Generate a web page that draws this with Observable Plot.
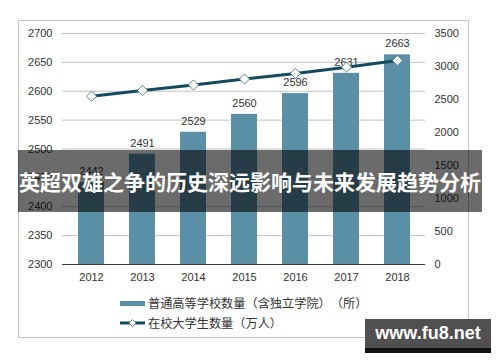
<!DOCTYPE html>
<html>
<head>
<meta charset="utf-8">
<script src="https://cdn.jsdelivr.net/npm/d3@7"></script>
<script src="https://cdn.jsdelivr.net/npm/@observablehq/plot@0.6"></script>
<style>
  html, body { margin: 0; padding: 0; background: #fff; }
  #wrap { position: relative; width: 500px; height: 362px; overflow: hidden; font-family: "Liberation Sans", Arial, sans-serif; }
  #frame { position: absolute; left: 18px; top: 20px; width: 449px; height: 316px; border: 1px solid #c4c4c4; box-sizing: content-box; }
  #chart { position: absolute; left: 0; top: 0; }
  .leg { position: absolute; left: 120px; font-family: "Noto Sans CJK SC", sans-serif; font-size: 12.2px; color: #333; display: flex; align-items: center; height: 16px; white-space: nowrap; text-spacing-trim: space-all; }
  .leg .sw { width: 25px; margin-right: 3px; position: relative; height: 16px; }
  #banner { position: absolute; left: 18px; top: 150px; width: 464px; height: 62px; background: rgba(0,0,0,0.58); color: #fff; font-family: "Noto Sans CJK SC", sans-serif; font-weight: bold; font-size: 21px; line-height: 62px; text-align: center; white-space: nowrap; }
  #wm { position: absolute; left: 365px; top: 319px; width: 126px; height: 29px; background: #505050; border-bottom: 5px solid #111; color: #fff; font-family: "Liberation Sans", Arial, sans-serif; font-weight: bold; font-size: 18px; line-height: 29px; text-align: center; }
</style>
</head>
<body>
<div id="wrap">
  <div id="frame"></div>
  <div id="chart"></div>
  <div class="leg" id="leg1" style="top:295px"></div>
  <div class="leg" id="leg2" style="top:315px"></div>
  <div id="banner"></div>
  <div id="wm"></div>
</div>
<script>
const years = ["2012", "2013", "2014", "2015", "2016", "2017", "2018"];
const schools = [2442, 2491, 2529, 2560, 2596, 2631, 2663];
const students = [2550, 2635, 2720, 2810, 2895, 2990, 3090];
const leftTicks = [2300, 2350, 2400, 2450, 2500, 2550, 2600, 2650, 2700];
const rightTicks = [0, 500, 1000, 1500, 2000, 2500, 3000, 3500];
const seriesNames = ["普通高等学校数量（含独立学院）（所）", "在校大学生数量（万人）"];
const bannerText = "英超双雄之争的历史深远影响与未来发展趋势分析";
const watermark = "www.fu8.net";

const barColor = "#5b8fa6";
const lineColor = "#124b60";

const leftMin = 2300, leftMax = 2700, rightMax = 3500;
const toLeft = v => leftMin + v / rightMax * (leftMax - leftMin);
const fromLeft = d => String(Math.round((d - leftMin) / (leftMax - leftMin) * rightMax));

const data = years.map((y, i) => ({year: y, schools: schools[i], students: students[i]}));

const chart = Plot.plot({
  width: 500,
  height: 362,
  marginTop: 33,
  marginBottom: 98,
  marginLeft: 62,
  marginRight: 75,
  style: {fontFamily: "'Liberation Sans', Arial, sans-serif", fontSize: "11px", color: "#333", background: "transparent"},
  x: {domain: years, paddingInner: 0.5, paddingOuter: 0.25},
  y: {domain: [leftMin, leftMax]},
  marks: [
    Plot.gridY(leftTicks, {stroke: "#c3c3c3", strokeOpacity: 1}),
    Plot.barY(data, {x: "year", y1: leftMin, y2: "schools", fill: barColor}),
    Plot.ruleY([leftMin], {stroke: "#3a3a3a", strokeWidth: 1}),
    Plot.text(data, {x: "year", y: "schools", text: d => String(d.schools), dy: -11, fill: "#333", fontSize: 11}),
    Plot.line(data, {x: "year", y: d => toLeft(d.students), stroke: lineColor, strokeWidth: 3}),
    Plot.dot(data, {x: "year", y: d => toLeft(d.students), symbol: "diamond2", r: 4.6, fill: "#fff", stroke: "#5f8593", strokeWidth: 1}),
    Plot.axisY(leftTicks, {anchor: "left", tickSize: 0, tickPadding: 10, label: null, tickFormat: d => String(d), fill: "#333"}),
    Plot.axisY(rightTicks.map(toLeft), {anchor: "right", tickSize: 0, tickPadding: 9, label: null, tickFormat: fromLeft, fill: "#333"}),
    Plot.axisX({tickSize: 0, tickPadding: 9, label: null, fill: "#333"})
  ]
});
document.getElementById("chart").appendChild(chart);

// legend
const leg1 = document.getElementById("leg1");
leg1.innerHTML = `<span class="sw"><span style="position:absolute;left:0;top:6px;width:25px;height:5px;background:${barColor}"></span></span><span>${seriesNames[0]}</span>`;
const leg2 = document.getElementById("leg2");
leg2.innerHTML = `<span class="sw"><svg width="25" height="16" style="position:absolute;left:0;top:0"><line x1="0" y1="8" x2="25" y2="8" stroke="${lineColor}" stroke-width="3"/><path d="M12.5,4.5L16,8L12.5,11.5L9,8Z" fill="#fff" stroke="#5f8593" stroke-width="1"/></svg></span><span>${seriesNames[1]}</span>`;

document.getElementById("banner").textContent = bannerText;
document.getElementById("wm").textContent = watermark;
</script>
</body>
</html>
